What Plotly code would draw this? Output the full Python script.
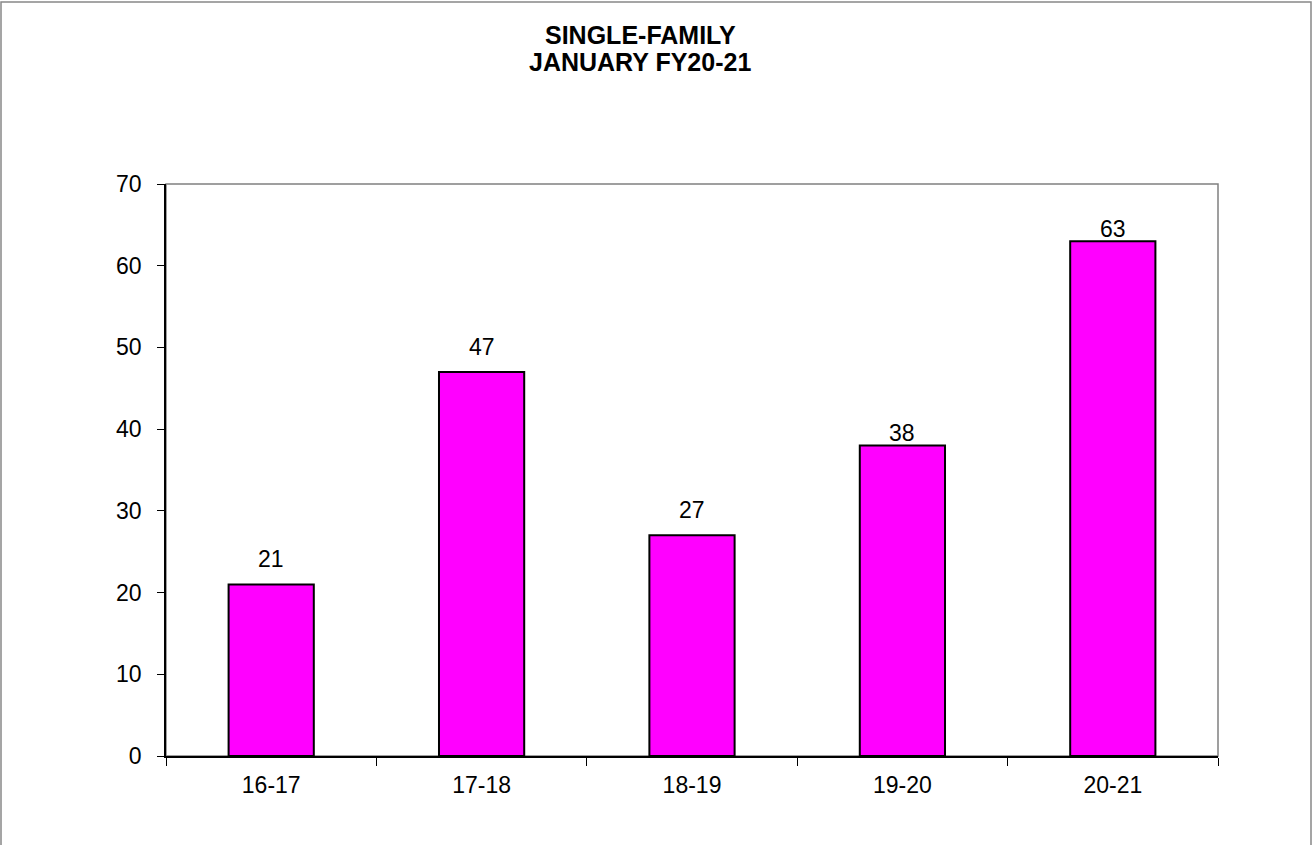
import plotly.graph_objects as go

categories = ["16-17", "17-18", "18-19", "19-20", "20-21"]
values = [21, 47, 27, 38, 63]
title_lines = ["SINGLE-FAMILY", "JANUARY FY20-21"]

W, H = 1313, 845
L, R, T, B = 166, 95, 184, 89
pw, ph = W - L - R, H - T - B

FAM = "Liberation Sans, Arial"
# vertical offset (px) of each value label above its bar, as in the source
label_yshift = [10, 10, 10, -3, -3]

fig = go.Figure()
fig.add_trace(go.Bar(
    x=categories, y=values,
    marker=dict(color="#FF00FF", line=dict(color="#000000", width=2)),
    width=0.405,
    cliponaxis=False,
))

font = dict(family=FAM, size=23, color="#000000")

annotations = []
for c, v, s in zip(categories, values, label_yshift):
    annotations.append(dict(
        x=c, y=v, xref="x", yref="y", text=str(v), showarrow=False,
        xanchor="center", yanchor="bottom", yshift=s,
        font=dict(family=FAM, size=23, color="#000000"),
    ))

title_y_px = [35, 62]
for line, ypx in zip(title_lines, title_y_px):
    annotations.append(dict(
        text="<b>" + line + "</b>", showarrow=False,
        xref="paper", yref="paper",
        x=(640 - L) / pw, y=(H - B - ypx) / ph,
        xanchor="center", yanchor="middle",
        font=dict(family=FAM, size=25, color="#000000"),
    ))

fig.update_layout(
    width=W, height=H,
    margin=dict(l=L, r=R, t=T, b=B, pad=0),
    paper_bgcolor="white", plot_bgcolor="white",
    showlegend=False,
    annotations=annotations,
    xaxis=dict(
        type="category", showgrid=False, zeroline=False,
        showline=True, linecolor="#000000", linewidth=1.5,
        ticks="outside", tickson="boundaries", ticklen=8, tickcolor="#000000",
        tickfont=font, range=[-0.5, 4.5], ticklabelstandoff=8,
    ),
    yaxis=dict(
        range=[0, 70], dtick=10, showgrid=False, zeroline=False,
        showline=True, linecolor="#000000", linewidth=1.5,
        ticks="outside", ticklen=7, tickcolor="#000000",
        tickfont=font, ticklabelstandoff=11,
    ),
    shapes=[
        dict(type="rect", xref="paper", yref="paper", x0=0, x1=1, y0=0, y1=1,
             line=dict(color="#808080", width=1.5), layer="below"),
        dict(type="rect", xref="paper", yref="paper",
             x0=(1 - L) / pw, x1=(W - 2 - L) / pw,
             y0=-0.3, y1=(ph + T - 2) / ph,
             line=dict(color="#888888", width=1.5)),
    ],
)

fig.write_html("out.html", config={"displayModeBar": False},
               post_script="document.body.style.margin='0px';")
